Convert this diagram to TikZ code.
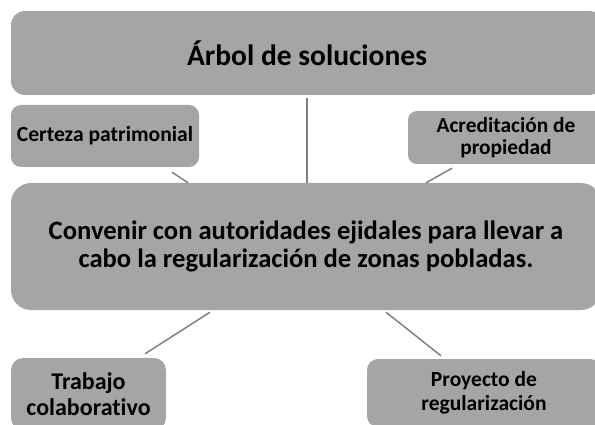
\documentclass[tikz,border=0pt]{standalone}
\usepackage{fontspec}
\setmainfont{Carlito}[Ligatures={NoCommon}]
\definecolor{boxgray}{HTML}{A5A5A5}
\definecolor{linegray}{HTML}{808080}
\begin{document}
\begin{tikzpicture}[x=1pt,y=-1pt,
  box/.style={fill=boxgray,draw=none,align=center,text=black,inner sep=0pt,font=\bfseries},
  conn/.style={draw=linegray,line width=1.5pt}]
\useasboundingbox (0,0) rectangle (595,425);
\clip (0,0) rectangle (595,425);
\node[box,minimum width=592pt,minimum height=84pt,rounded corners=14pt,font=\bfseries\fontsize{29.5}{35}\selectfont] (top) at (307,53) {Árbol de soluciones};
\node[box,minimum width=188pt,minimum height=62pt,rounded corners=10pt,font=\bfseries\fontsize{21.6}{26}\selectfont] (certeza) at (105,136) {Certeza patrimonial};
\node[box,minimum width=196pt,minimum height=53pt,rounded corners=9pt,font=\bfseries\fontsize{21.4}{22.5}\selectfont] (acred) at (506,137.5) {Acreditación de\\propiedad};
\node[box,minimum width=590pt,minimum height=127pt,rounded corners=20pt,font=\bfseries\fontsize{26.6}{28.5}\selectfont] (main) at (306,246.5) {Convenir con autoridades ejidales para llevar a\\cabo la regularización de zonas pobladas.};
\node[box,minimum width=155pt,minimum height=72pt,rounded corners=12pt,font=\bfseries\fontsize{24}{25.5}\selectfont] (trabajo) at (88.5,394) {Trabajo\\colaborativo};
\node[box,minimum width=234pt,minimum height=68pt,rounded corners=11pt,font=\bfseries\fontsize{21.5}{23.5}\selectfont] (proyecto) at (484,393) {Proyecto de\\regularización};
\draw[conn] ([shift={(0,3)}]top.south) -- (top.south |- main.north);
\draw[conn] ([shift={(67,5)}]certeza.south) -- ([shift={(-118,0)}]main.north);
\draw[conn] ([shift={(-54,4)}]acred.south) -- ([shift={(120,0)}]main.north);
\draw[conn] ([shift={(-96,2)}]main.south) -- ([shift={(56.5,-4)}]trabajo.north);
\draw[conn] ([shift={(80,2)}]main.south) -- ([shift={(-43,-3)}]proyecto.north);
\end{tikzpicture}
\end{document}
